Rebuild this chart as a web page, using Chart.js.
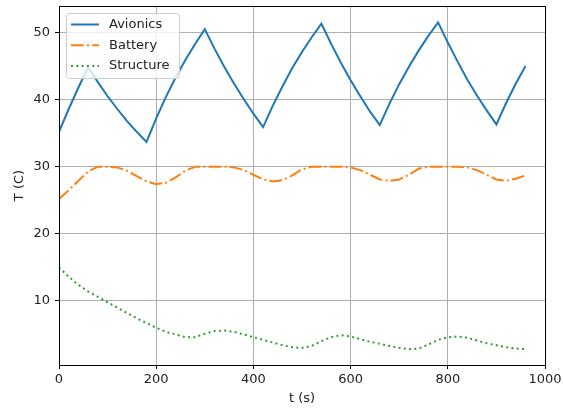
<!DOCTYPE html>
<html>
<head>
<meta charset="utf-8">
<script src="https://cdn.jsdelivr.net/npm/chart.js@4.4.0/dist/chart.umd.min.js"></script>
<style>
  html, body { margin: 0; padding: 0; background: #fff; }
  #wrap { width: 563px; height: 409px; }
</style>
</head>
<body>
<div id="wrap"><canvas id="grafico"></canvas></div>
<script>
// dados (t a cada 20 s)
const tempo = [0, 20, 40, 60, 80, 100, 120, 140, 160, 180, 200, 220, 240, 260, 280, 300,
  320, 340, 360, 380, 400, 420, 440, 460, 480, 500, 520, 540, 560, 580, 600, 620, 640,
  660, 680, 700, 720, 740, 760, 780, 800, 820, 840, 860, 880, 900, 920, 940, 960];

const avionics = [35.2, 38.6, 41.8, 44.8, 42.6, 40.5, 38.6, 36.8, 35.2, 33.7, 37.2, 40.4,
  43.3, 45.9, 48.3, 50.5, 47.6, 44.9, 42.4, 40.1, 37.9, 35.9, 39.1, 42.0, 44.7, 47.1,
  49.3, 51.3, 48.3, 45.5, 42.9, 40.5, 38.2, 36.2, 39.4, 42.3, 44.9, 47.3, 49.5, 51.5,
  48.5, 45.7, 43.0, 40.6, 38.4, 36.3, 39.5, 42.4, 45.0];

const battery = [25.2, 26.5, 27.9, 29.3, 30.0, 30.0, 29.9, 29.4, 28.6, 27.8, 27.4, 27.6,
  28.4, 29.4, 30.0, 30.0, 30.0, 30.0, 29.9, 29.5, 28.8, 28.1, 27.8, 28.0, 28.7, 29.6,
  30.0, 30.0, 30.0, 30.0, 29.9, 29.5, 28.8, 28.1, 27.9, 28.1, 28.8, 29.7, 30.0, 30.0,
  30.0, 30.0, 29.9, 29.5, 28.8, 28.1, 27.9, 28.2, 28.7];

const structure = [15.0, 13.6, 12.4, 11.4, 10.6, 9.8, 9.0, 8.2, 7.4, 6.7, 6.0, 5.4,
  5.0, 4.6, 4.6, 5.1, 5.5, 5.6, 5.4, 5.0, 4.6, 4.2, 3.8, 3.4, 3.1, 3.0, 3.3, 4.0,
  4.6, 4.9, 4.7, 4.3, 3.9, 3.6, 3.3, 3.0, 2.8, 2.9, 3.5, 4.2, 4.6, 4.7, 4.5, 4.1,
  3.7, 3.4, 3.1, 2.9, 2.8];

const xTicks = [0, 200, 400, 600, 800, 1000];
const yTicks = [10, 20, 30, 40, 50];

const fonte = '"DejaVu Sans", sans-serif';

function pontos(serie) {
  return tempo.map(function (t, i) { return { x: t, y: serie[i] }; });
}

// legenda dentro da área, por cima das linhas (estilo matplotlib)
const legendaDentro = {
  id: "legendaDentro",
  afterDatasetsDraw(chart) {
    const ctx = chart.ctx;
    const a = chart.chartArea;
    const x = a.left + 7, y = a.top + 7, w = 113, h = 65;
    ctx.save();
    ctx.beginPath();
    ctx.roundRect(x + 0.5, y + 0.5, w, h, 3);
    ctx.fillStyle = "rgba(255,255,255,0.8)";
    ctx.fill();
    ctx.strokeStyle = "#cccccc";
    ctx.lineWidth = 1;
    ctx.stroke();
    chart.data.datasets.forEach(function (ds, i) {
      const cy = y + 11.5 + i * 20.7;
      ctx.beginPath();
      ctx.setLineDash(ds.borderDash || []);
      ctx.strokeStyle = ds.borderColor;
      ctx.lineWidth = ds.borderWidth;
      ctx.moveTo(x + 5, cy);
      ctx.lineTo(x + 33, cy);
      ctx.stroke();
      ctx.setLineDash([]);
      ctx.fillStyle = "#222";
      ctx.font = "13px " + fonte;
      ctx.textBaseline = "middle";
      ctx.fillText(ds.label, x + 43, cy);
    });
    ctx.restore();
  },
};

// moldura nos 4 lados
const moldura = {
  id: "moldura",
  afterDraw(chart) {
    const ctx = chart.ctx;
    const a = chart.chartArea;
    ctx.save();
    ctx.strokeStyle = "#000";
    ctx.lineWidth = 1;
    ctx.strokeRect(Math.round(a.left) + 0.5, Math.round(a.top) + 0.5,
      Math.round(a.right - a.left), Math.round(a.bottom - a.top));
    ctx.restore();
  },
};

new Chart(document.getElementById("grafico"), {
  type: "line",
  data: {
    datasets: [
      {
        label: "Avionics",
        data: pontos(avionics),
        borderColor: "#1f77b4",
        borderWidth: 2,
        pointRadius: 0,
        tension: 0,
      },
      {
        label: "Battery",
        data: pontos(battery),
        borderColor: "#ff7f0e",
        borderWidth: 2,
        borderDash: [12.8, 3.2, 2, 3.2],
        pointRadius: 0,
        tension: 0,
      },
      {
        label: "Structure",
        data: pontos(structure),
        borderColor: "#2ca02c",
        borderWidth: 2,
        borderDash: [2, 3.3],
        borderCapStyle: "butt",
        pointRadius: 0,
        tension: 0,
      },
    ],
  },
  options: {
    responsive: true,
    maintainAspectRatio: false,
    animation: false,
    layout: { padding: { top: 6, right: 18, left: 0, bottom: 0 } },
    plugins: {
      legend: { display: false },
      tooltip: { enabled: false },
    },
    scales: {
      x: {
        type: "linear",
        min: 0,
        max: 1000,
        afterBuildTicks: function (s) { s.ticks = xTicks.map(function (v) { return { value: v }; }); },
        afterFit: function (s) { s.height = 44; s.paddingLeft = 0; s.paddingRight = 0; },
        grid: { color: "#b0b0b0", lineWidth: 1, tickLength: 4, tickColor: "#000" },
        border: { color: "#000" },
        ticks: {
          color: "#222", padding: 3, maxRotation: 0, font: { family: fonte, size: 13 },
          callback: function (v) { return String(v); },
        },
        title: { display: true, text: "t (s)", color: "#222", padding: { top: 0, bottom: 3 }, font: { family: fonte, size: 13 } },
      },
      y: {
        type: "linear",
        min: 0.45,
        max: 53.95,
        afterBuildTicks: function (s) { s.ticks = yTicks.map(function (v) { return { value: v }; }); },
        afterFit: function (s) { s.width = 59; s.paddingTop = 0; s.paddingBottom = 0; },
        grid: { color: "#b0b0b0", lineWidth: 1, tickLength: 4, tickColor: "#000" },
        border: { color: "#000" },
        ticks: {
          color: "#222", padding: 5, font: { family: fonte, size: 13 },
          callback: function (v) { return String(v); },
        },
        title: { display: true, text: "T (C)", color: "#222", padding: { top: 12, bottom: 0 }, font: { family: fonte, size: 13 } },
      },
    },
  },
  plugins: [legendaDentro, moldura],
});
</script>
</body>
</html>
